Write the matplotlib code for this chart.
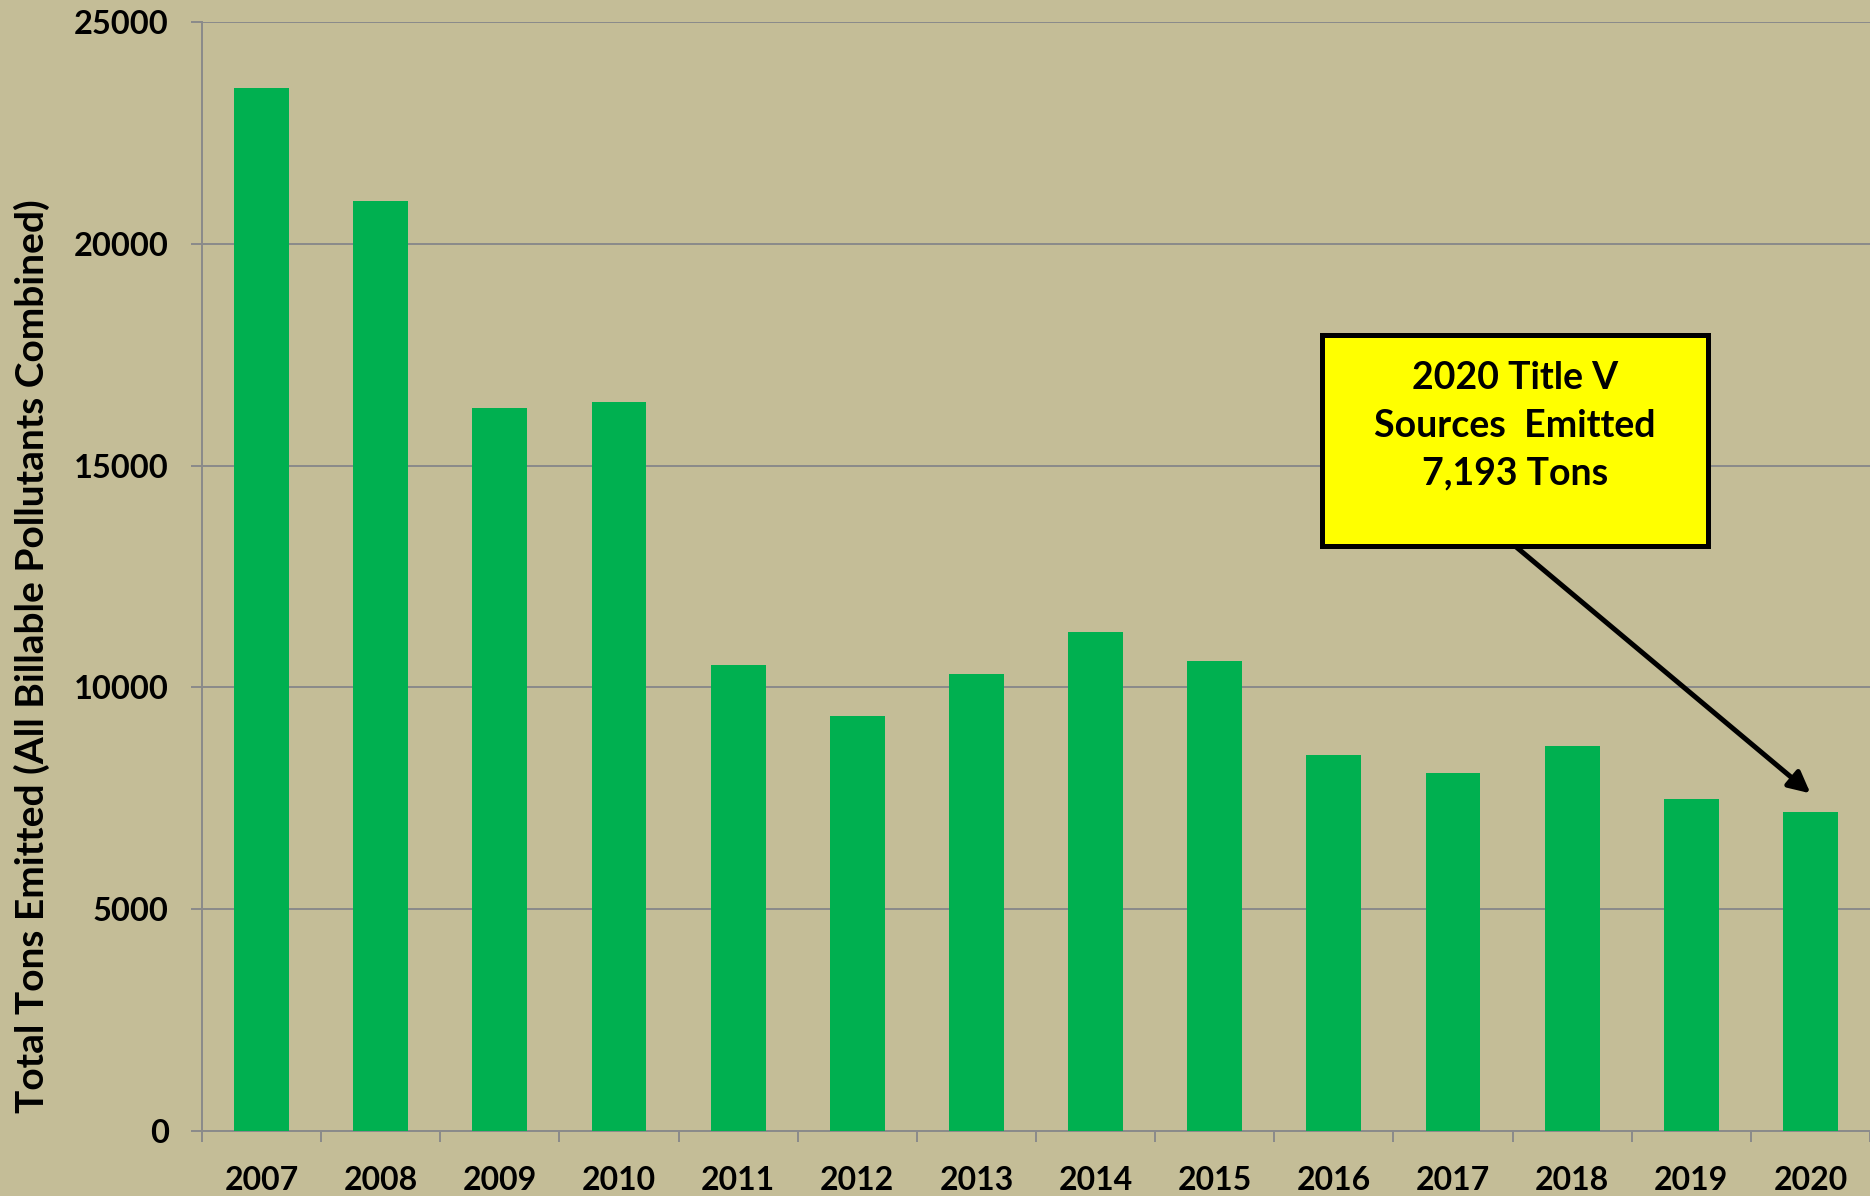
import numpy as np
import matplotlib.pyplot as plt
from matplotlib.patches import Rectangle

years = ['2007', '2008', '2009', '2010', '2011', '2012', '2013',
         '2014', '2015', '2016', '2017', '2018', '2019', '2020']
tons = [23520, 20970, 16290, 16430, 10510, 9350, 10300,
        11240, 10590, 8470, 8060, 8680, 7490, 7193]
yticks = [0, 5000, 10000, 15000, 20000, 25000]
note = '2020 Title V\nSources  Emitted\n7,193 Tons'

fondo = '#c4bd97'
verde = '#00b050'
gris = '#8a8a8a'

plt.rcParams['font.family'] = ['Lato', 'DejaVu Sans']
plt.rcParams['font.weight'] = 'bold'

fig = plt.figure(figsize=(18.7, 11.96), dpi=100, facecolor=fondo)
ax = fig.add_axes([0.108, 0.0543, 0.892, 0.9273])
ax.set_facecolor(fondo)

x = np.arange(len(years))
ax.bar(x, tons, width=0.46, color=verde, zorder=3)

ax.set_xlim(-0.5, len(years) - 0.5)
ax.set_ylim(0, 25000)
ax.set_yticks(yticks)
ax.set_yticklabels([str(v) for v in yticks], fontsize=23.5, fontweight='bold')
ax.set_xticks(x)
ax.set_xticklabels(years, fontsize=23, fontweight='bold')
ax.set_xticks(np.arange(len(years) + 1) - 0.5, minor=True)
ax.tick_params(axis='x', which='major', length=0, pad=25)
ax.tick_params(axis='x', which='minor', length=8, width=1.4, color=gris)
ax.tick_params(axis='y', length=8, width=1.4, color=gris, pad=16)

ax.grid(axis='y', color=gris, linewidth=1.4, zorder=0)
for s in ['top', 'right']:
    ax.spines[s].set_visible(False)
for s in ['left', 'bottom']:
    ax.spines[s].set_color(gris)
    ax.spines[s].set_linewidth(1.4)

ax.set_ylabel('Total Tons Emitted (All Billable Pollutants Combined)',
              fontsize=28, fontweight='bold')
ax.yaxis.set_label_coords(-0.091, 0.428)

# caja amarilla con la nota
ax.add_patch(Rectangle((8.9, 13190), 3.24, 4750, facecolor='#ffff00',
                       edgecolor='black', linewidth=3.6, zorder=5))
ax.text(10.52, 15900, note, ha='center', va='center', fontsize=27,
        fontweight='bold', linespacing=1.5, zorder=6)
ax.annotate('', xy=(13, tons[-1] + 420), xytext=(10.52, 13190),
            arrowprops=dict(arrowstyle='-|>', color='black', lw=3.6,
                            mutation_scale=32, shrinkA=0, shrinkB=0),
            zorder=4)

fig.savefig('out.png', dpi=100, facecolor=fondo)
